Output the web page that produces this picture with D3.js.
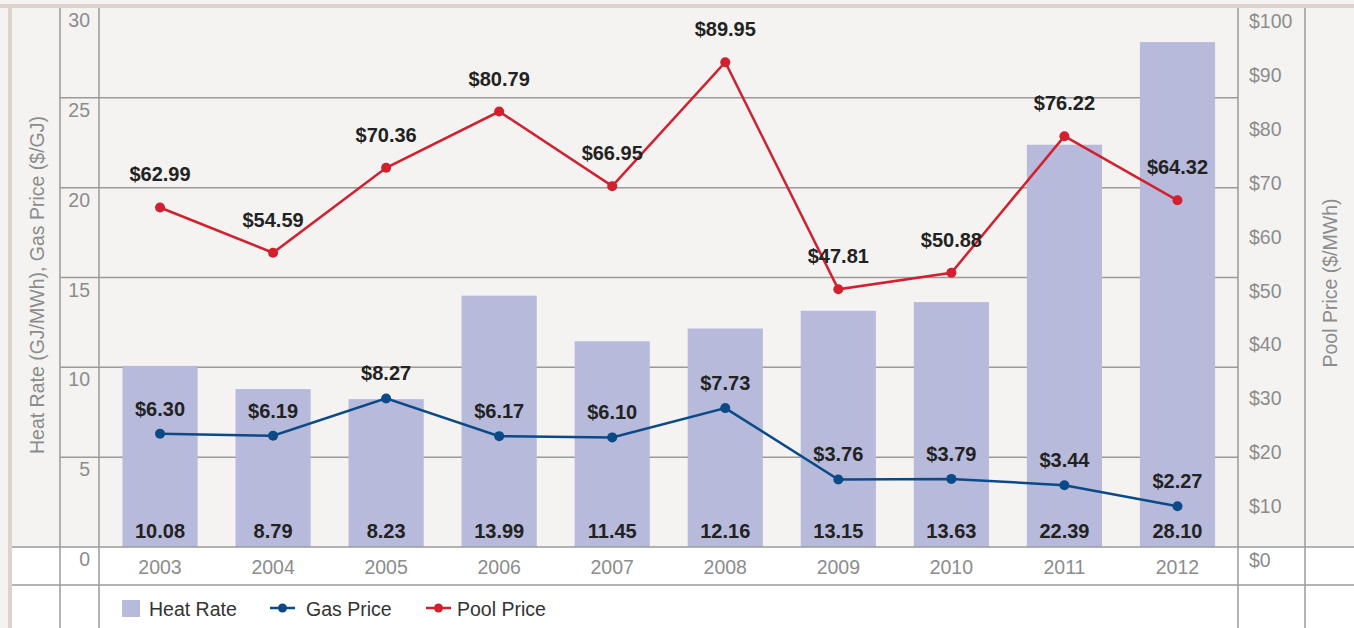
<!DOCTYPE html>
<html>
<head>
<meta charset="utf-8">
<script src="https://cdn.jsdelivr.net/npm/d3@7"></script>
<style>
body { margin: 0; background: #f4f3f1; }
svg { display: block; font-family: "Liberation Sans", Arial, sans-serif; }
</style>
</head>
<body>
<div id="chart"></div>
<script>
// data
var years = ["2003", "2004", "2005", "2006", "2007", "2008", "2009", "2010", "2011", "2012"];
var heatRate = [10.08, 8.79, 8.23, 13.99, 11.45, 12.16, 13.15, 13.63, 22.39, 28.10];
var gasPrice = [6.30, 6.19, 8.27, 6.17, 6.10, 7.73, 3.76, 3.79, 3.44, 2.27];
var poolPrice = [62.99, 54.59, 70.36, 80.79, 66.95, 89.95, 47.81, 50.88, 76.22, 64.32];
var leftTicks = [0, 5, 10, 15, 20, 25, 30];
var rightTicks = [0, 10, 20, 30, 40, 50, 60, 70, 80, 90, 100];

var W = 1354, H = 628;
var plotTop = 8, base = 547, legendLine = 585;
var colA = 60, colB = 99, colC = 1238, colD = 1305;

var barColor = "#b8badb", red = "#d2202f", blue = "#0b4a87";
var gridColor = "#9a9a9a", tickColor = "#8c8c8c", labelColor = "#222";

var svg = d3.select("#chart").append("svg")
    .attr("width", W)
    .attr("height", H);

// backgrounds
svg.append("rect").attr("x", 0).attr("y", 0).attr("width", W).attr("height", H).attr("fill", "#f4f3f1");
svg.append("rect").attr("x", 12).attr("y", base).attr("width", W - 12).attr("height", H - base).attr("fill", "#ffffff");
svg.append("rect").attr("x", 0).attr("y", 4).attr("width", W).attr("height", 4).attr("fill", "#dcd3cb");
svg.append("rect").attr("x", 8).attr("y", 4).attr("width", 4).attr("height", H - 4).attr("fill", "#dcd3cb");

var x = d3.scaleBand()
    .domain(years)
    .range([103.5, 1234])
    .paddingInner(0.335)
    .paddingOuter(0.1675);

var yL = d3.scaleLinear().domain([0, 30]).range([base, plotTop]);
var yR = d3.scaleLinear().domain([0, 100]).range([base, plotTop]);

// gridlines behind the bars
svg.append("g").selectAll("line")
    .data(leftTicks.filter(function (d) { return d > 0 && d < 30; }))
    .enter().append("line")
    .attr("x1", colA).attr("x2", colC)
    .attr("y1", function (d) { return yL(d); })
    .attr("y2", function (d) { return yL(d); })
    .attr("stroke", gridColor)
    .attr("stroke-width", 1.5);

// bars
svg.append("g").selectAll("rect")
    .data(years)
    .enter().append("rect")
    .attr("x", function (d) { return x(d); })
    .attr("width", x.bandwidth())
    .attr("y", function (d, i) { return yL(heatRate[i]); })
    .attr("height", function (d, i) { return base - yL(heatRate[i]); })
    .attr("fill", barColor);

// table lines
[base, legendLine].forEach(function (yy) {
    svg.append("line")
        .attr("x1", 12).attr("x2", W)
        .attr("y1", yy).attr("y2", yy)
        .attr("stroke", gridColor)
        .attr("stroke-width", 1.5);
});
[colA, colB, colC, colD].forEach(function (xx) {
    svg.append("line")
        .attr("x1", xx).attr("x2", xx)
        .attr("y1", plotTop).attr("y2", H)
        .attr("stroke", gridColor)
        .attr("stroke-width", 1.5);
});

// left tick labels
svg.append("g").selectAll("text")
    .data(leftTicks)
    .enter().append("text")
    .attr("x", 90)
    .attr("y", function (d) { return yL(d) + 19; })
    .attr("text-anchor", "end")
    .attr("font-size", 19.5)
    .attr("fill", tickColor)
    .text(function (d) { return d; });

// right tick labels
svg.append("g").selectAll("text")
    .data(rightTicks)
    .enter().append("text")
    .attr("x", 1249)
    .attr("y", function (d) { return yR(d) + 20; })
    .attr("font-size", 19.5)
    .attr("fill", tickColor)
    .text(function (d) { return "$" + d; });

// year labels
svg.append("g").selectAll("text")
    .data(years)
    .enter().append("text")
    .attr("x", function (d) { return x(d) + x.bandwidth() / 2; })
    .attr("y", 574)
    .attr("text-anchor", "middle")
    .attr("font-size", 19.5)
    .attr("fill", tickColor)
    .text(function (d) { return d; });

// axis titles
svg.append("text")
    .attr("transform", "translate(44,285) rotate(-90)")
    .attr("text-anchor", "middle")
    .attr("font-size", 19.5)
    .attr("fill", tickColor)
    .text("Heat Rate (GJ/MWh), Gas Price ($/GJ)");

svg.append("text")
    .attr("transform", "translate(1337,283) rotate(-90)")
    .attr("text-anchor", "middle")
    .attr("font-size", 19.5)
    .attr("fill", tickColor)
    .text("Pool Price ($/MWh)");

var cx = function (d, i) { return x(years[i]) + x.bandwidth() / 2; };

// heat rate values at bar bottoms
svg.append("g").selectAll("text")
    .data(heatRate)
    .enter().append("text")
    .attr("x", cx)
    .attr("y", 538)
    .attr("text-anchor", "middle")
    .attr("font-size", 20)
    .attr("font-weight", "bold")
    .attr("fill", labelColor)
    .text(function (d) { return d.toFixed(2); });

// lines with markers and value labels
function drawSeries(values, scale, color, offset) {
    var line = d3.line()
        .x(function (d, i) { return cx(d, i); })
        .y(function (d) { return scale(d); });
    var g = svg.append("g");
    g.append("path")
        .datum(values)
        .attr("d", line)
        .attr("fill", "none")
        .attr("stroke", color)
        .attr("stroke-width", 2.5);
    g.selectAll("circle")
        .data(values)
        .enter().append("circle")
        .attr("cx", cx)
        .attr("cy", function (d) { return scale(d); })
        .attr("r", 5)
        .attr("fill", color);
    g.selectAll("text")
        .data(values)
        .enter().append("text")
        .attr("x", cx)
        .attr("y", function (d) { return scale(d) - offset; })
        .attr("text-anchor", "middle")
        .attr("font-size", 20)
        .attr("font-weight", "bold")
        .attr("fill", labelColor)
        .text(function (d) { return "$" + d.toFixed(2); });
}
drawSeries(gasPrice, yL, blue, 18);
drawSeries(poolPrice, yR, red, 26);

// legend
var lg = svg.append("g");
lg.append("rect").attr("x", 122).attr("y", 600).attr("width", 18).attr("height", 17).attr("fill", barColor);
lg.append("text").attr("x", 149).attr("y", 616).attr("font-size", 19.5).attr("fill", "#333").text("Heat Rate");

[{ x: 270, tx: 306, color: blue, name: "Gas Price" }, { x: 426, tx: 457, color: red, name: "Pool Price" }].forEach(function (s) {
    lg.append("line")
        .attr("x1", s.x).attr("x2", s.x + 25)
        .attr("y1", 608).attr("y2", 608)
        .attr("stroke", s.color).attr("stroke-width", 2.5);
    lg.append("circle").attr("cx", s.x + 12.5).attr("cy", 608).attr("r", 4.5).attr("fill", s.color);
    lg.append("text").attr("x", s.tx).attr("y", 616).attr("font-size", 19.5).attr("fill", "#333").text(s.name);
});
</script>
</body>
</html>
